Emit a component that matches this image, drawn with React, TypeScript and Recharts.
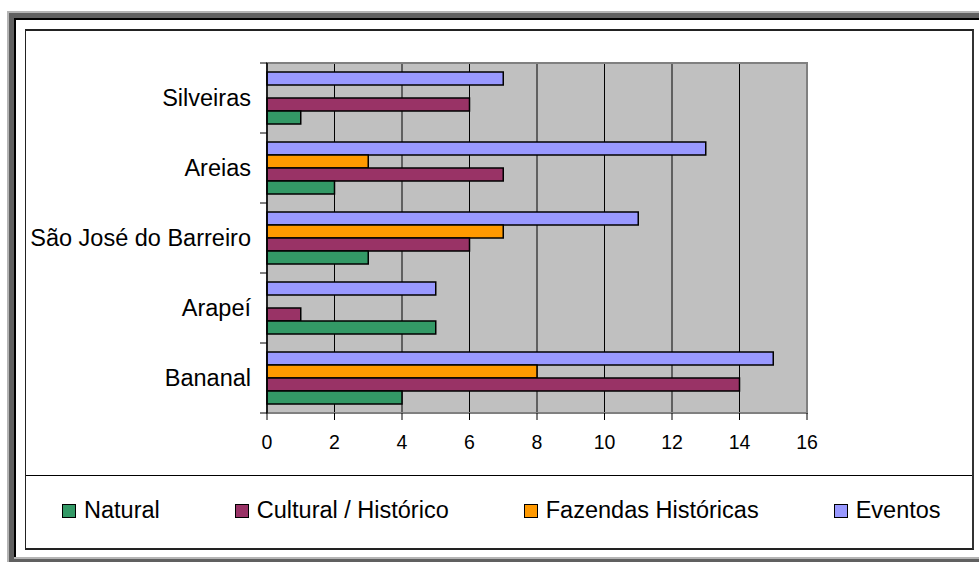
import { Bar, BarChart, CartesianGrid, ReferenceArea, XAxis, YAxis } from "recharts";

// bottom-to-top order as read on the chart
const categories = ["Bananal", "Arapeí", "São José do Barreiro", "Areias", "Silveiras"];
const natural = [4, 5, 3, 2, 1];
const cultural = [14, 1, 6, 7, 6];
const fazendas = [8, 0, 7, 3, 0];
const eventos = [15, 5, 11, 13, 7];
const xTicks = [0, 2, 4, 6, 8, 10, 12, 14, 16];

const series = [
  { key: "natural", name: "Natural", color: "#339966" },
  { key: "cultural", name: "Cultural / Histórico", color: "#993366" },
  { key: "fazendas", name: "Fazendas Históricas", color: "#FF9900" },
  { key: "eventos", name: "Eventos", color: "#9999FF" },
];

// recharts draws categories top-down, so flip them
const data = categories
  .map((name, i) => ({
    name,
    natural: natural[i],
    cultural: cultural[i],
    fazendas: fazendas[i],
    eventos: eventos[i],
  }))
  .reverse();

const font = "'Liberation Sans', Arial, sans-serif";

const CategoryTick = (props: any) => {
  const { x, y, payload, index, visibleTicksCount } = props;
  const half = payload && payload.offset ? payload.offset : 35;
  const last = index === visibleTicksCount - 1;
  return (
    <g>
      <line x1={x - 7} x2={x} y1={y - half} y2={y - half} stroke="#000" />
      {last && <line x1={x - 7} x2={x} y1={y + half} y2={y + half} stroke="#000" />}
      <text
        x={x - 16}
        y={y}
        textAnchor="end"
        dominantBaseline="central"
        fontSize={23.5}
        fontFamily={font}
        fill="#000"
      >
        {payload.value}
      </text>
    </g>
  );
};

const App = () => {
  return (
    <div style={{ position: "absolute", left: 0, top: 0, width: 979, height: 562, background: "#fff", fontFamily: font }}>
      {/* frame */}
      <div style={{ position: "absolute", left: 7, top: 11, width: 972, height: 551, background: "#b4b4b4" }} />
      <div style={{ position: "absolute", left: 9, top: 13, width: 970, height: 549, background: "#606060" }} />
      <div style={{ position: "absolute", left: 14, top: 18, width: 965, height: 539, background: "#000" }} />
      <div style={{ position: "absolute", left: 16, top: 20, width: 963, height: 537, background: "#fff" }} />
      <div style={{ position: "absolute", left: 14, top: 557, width: 965, height: 2, background: "#b4b4b4" }} />

      {/* inner box */}
      <div
        style={{
          position: "absolute",
          left: 25,
          top: 29,
          width: 946,
          height: 517,
          borderTop: "2px solid #222",
          borderLeft: "1px solid #222",
          borderRight: "2px solid #333",
          borderBottom: "2px solid #222",
          background: "#fff",
        }}
      />
      <div style={{ position: "absolute", left: 26, top: 475, width: 946, height: 1, background: "#000" }} />

      <div style={{ position: "absolute", left: 25, top: 29 }}>
        <BarChart
          width={948}
          height={446}
          data={data}
          layout="vertical"
          margin={{ top: 34, right: 166, left: 0, bottom: 0 }}
          barCategoryGap={9}
          barGap={0}
        >
          <CartesianGrid horizontal={false} stroke="#000" fill="#c0c0c0" />
          <ReferenceArea x1={0} x2={16} fill="none" stroke="#808080" strokeWidth={2} ifOverflow="visible" />
          <XAxis
            type="number"
            domain={[0, 16]}
            ticks={xTicks}
            interval={0}
            height={62}
            tickSize={7}
            tickMargin={15}
            axisLine={{ stroke: "#808080", strokeWidth: 2 }}
            tickLine={{ stroke: "#000" }}
            tick={{ fill: "#000", fontSize: 19.5, fontFamily: font }}
          />
          <YAxis
            type="category"
            dataKey="name"
            width={242}
            tickSize={0}
            tickMargin={0}
            tickLine={false}
            axisLine={{ stroke: "#000", strokeWidth: 1.5 }}
            tick={<CategoryTick />}
            interval={0}
          />
          {[...series].reverse().map((s) => (
            <Bar
              key={s.key}
              dataKey={s.key}
              name={s.name}
              fill={s.color}
              stroke="#000"
              strokeWidth={1.5}
              isAnimationActive={false}
            />
          ))}
        </BarChart>
      </div>

      {/* legend */}
      <div
        style={{
          position: "absolute",
          left: 62,
          top: 497,
          display: "flex",
          alignItems: "center",
          gap: 75,
          fontSize: 23.5,
          color: "#000",
          whiteSpace: "nowrap",
        }}
      >
        {series.map((s) => (
          <div key={s.key} style={{ display: "flex", alignItems: "center" }}>
            <span
              style={{
                display: "inline-block",
                width: 12,
                height: 12,
                background: s.color,
                border: "1px solid #000",
                marginRight: 8,
              }}
            />
            <span>{s.name}</span>
          </div>
        ))}
      </div>
    </div>
  );
};

export default App;
